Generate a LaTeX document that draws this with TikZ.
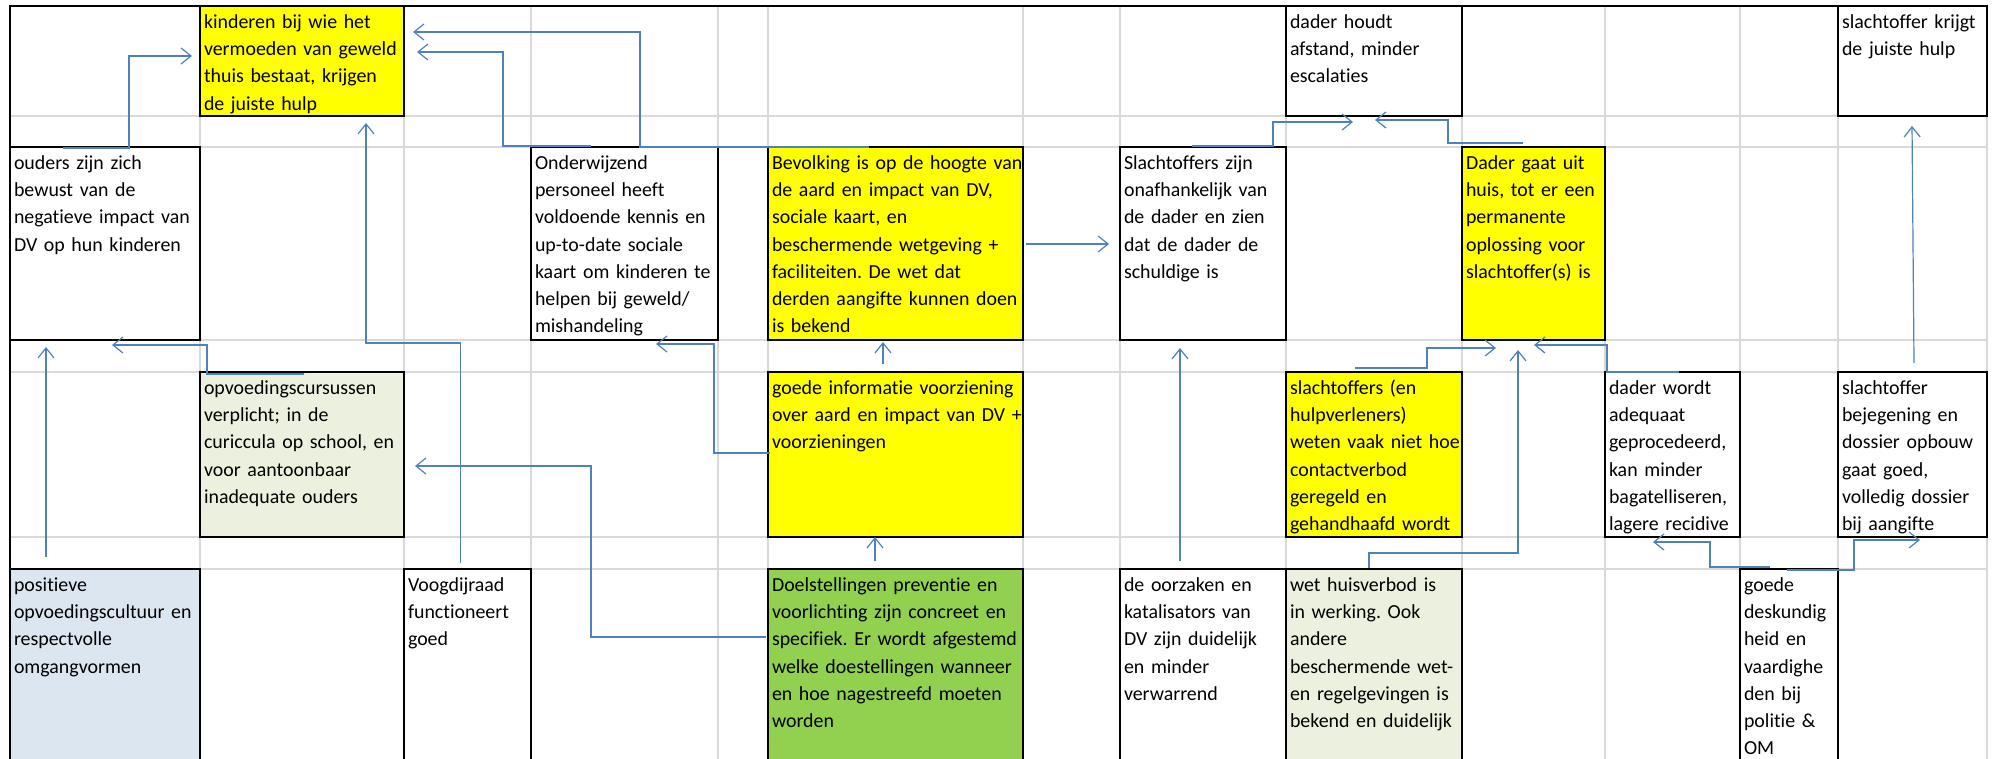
\documentclass[tikz,border=0pt]{standalone}
\usepackage{fontspec}
\setmainfont{Carlito}[Ligatures=CommonOff]
\usetikzlibrary{arrows.meta,calc,fit}
\frenchspacing
\definecolor{gridgray}{HTML}{D9D9D9}
\definecolor{xlyellow}{HTML}{FFFF00}
\definecolor{xllgreen}{HTML}{EBF1DE}
\definecolor{xllblue}{HTML}{DCE6F1}
\definecolor{xlgreen}{HTML}{92D050}
\definecolor{xlblue}{HTML}{4F81BD}
\tikzset{
  gridline/.style={draw=gridgray, line width=0.65pt},
  frameline/.style={draw=black, line width=0.85pt},
  cellbox/.style={draw=black, line width=0.85pt, inner sep=0pt, outer sep=0pt},
  celltext/.style={anchor=base west, inner sep=0pt, outer sep=0pt, text width=150pt, align=left, font=\frenchspacing\fontsize{9.95}{13.6}\selectfont},
  conn/.style={draw=xlblue, line width=0.6pt, -{Straight Barb[length=5pt,width=8pt]}},
}
\newcommand\mkcell[7]{%
  \node[cellbox, fill=#6, fit={(#2,#3) (#4,#5)}] (#1) {};
  \node[celltext] (#1-t) at ($(#1.north west)+(4,22.5)$) {#7};
}
\begin{document}
\begin{tikzpicture}[x=0.5pt, y=-0.5pt]
\useasboundingbox (0,0) rectangle (2000,759);
\clip (0,0) rectangle (2000,759);
\fill[white] (0,0) rectangle (2000,759);
% grid
\foreach \gx in {200,404,531,718,768,1023,1120,1286,1462,1605,1740,1838,1987}
  \draw[gridline] (\gx,6) -- (\gx,770);
\foreach \gy in {116,147,340,372,537,569}
  \draw[gridline] (10,\gy) -- (1987,\gy);
% frame
\draw[frameline] (10,770) -- (10,6) -- (1987,6);
% cells
\mkcell{kind}{200}{6}{404}{116}{xlyellow}{kinderen bij wie het\\vermoeden van geweld\\thuis bestaat, krijgen\\de juiste hulp}
\mkcell{dhoudt}{1286}{6}{1462}{116}{white}{dader houdt\\afstand, minder\\escalaties}
\mkcell{skrijgt}{1838}{6}{1987}{116}{white}{slachtoffer krijgt\\de juiste hulp}
\mkcell{ouders}{10}{147}{200}{340}{white}{ouders zijn zich\\bewust van de\\negatieve impact van\\DV op hun kinderen}
\mkcell{onderw}{531}{147}{718}{340}{white}{Onderwijzend\\personeel heeft\\voldoende kennis en\\up-to-date sociale\\kaart om kinderen te\\helpen bij geweld/\\mishandeling}
\mkcell{bevolk}{768}{147}{1023}{340}{xlyellow}{Bevolking is op de hoogte van\\de aard en impact van DV,\\sociale kaart, en\\beschermende wetgeving +\\faciliteiten. De wet dat\\derden aangifte kunnen doen\\is bekend}
\mkcell{slacht}{1120}{147}{1286}{340}{white}{Slachtoffers zijn\\onafhankelijk van\\de dader en zien\\dat de dader de\\schuldige is}
\mkcell{dgaat}{1462}{147}{1605}{340}{xlyellow}{Dader gaat uit\\huis, tot er een\\permanente\\oplossing voor\\slachtoffer(s) is}
\mkcell{opvoed}{200}{372}{404}{537}{xllgreen}{opvoedingscursussen\\verplicht; in de\\curiccula op school, en\\voor aantoonbaar\\inadequate ouders}
\mkcell{ginfo}{768}{372}{1023}{537}{xlyellow}{goede informatie voorziening\\over aard en impact van DV +\\voorzieningen}
\mkcell{shulp}{1286}{372}{1462}{537}{xlyellow}{slachtoffers (en\\hulpverleners)\\weten vaak niet hoe\\contactverbod\\geregeld en\\gehandhaafd wordt}
\mkcell{dwordt}{1605}{372}{1740}{537}{white}{dader wordt\\adequaat\\geprocedeerd,\\kan minder\\bagatelliseren,\\lagere recidive}
\mkcell{sbejeg}{1838}{372}{1987}{537}{white}{slachtoffer\\bejegening en\\dossier opbouw\\gaat goed,\\volledig dossier\\bij aangifte}
\mkcell{posit}{10}{569}{200}{800}{xllblue}{positieve\\opvoedingscultuur en\\respectvolle\\omgangvormen}
\mkcell{voogd}{404}{569}{531}{800}{white}{Voogdijraad\\functioneert\\goed}
\mkcell{doel}{768}{569}{1023}{800}{xlgreen}{Doelstellingen preventie en\\voorlichting zijn concreet en\\specifiek. Er wordt afgestemd\\welke doestellingen wanneer\\en hoe nagestreefd moeten\\worden}
\mkcell{oorz}{1120}{569}{1286}{800}{white}{de oorzaken en\\katalisators van\\DV zijn duidelijk\\en minder\\verwarrend}
\mkcell{wet}{1286}{569}{1462}{800}{xllgreen}{wet huisverbod is\\in werking. Ook\\andere\\beschermende wet-\\en regelgevingen is\\bekend en duidelijk}
\mkcell{gdesk}{1740}{569}{1838}{800}{white}{goede\\deskundig\\heid en\\vaardighe\\den bij\\politie \&\\OM}
% connectors
\draw[conn] ($(ouders.north west)+(53,1)$) -- ++(66,0) |- ($(kind.west)+(-8,-5)$);
\draw[conn] ($(onderw.north west)+(60,-1)$) -- ++(-88,0) |- ($(kind.east)+(13,-9)$);
\draw[conn] ($(bevolk.north west)+(101,0)$) -- ++(-229,0) |- ($(kind.north east)+(9,26)$);
\draw[conn] ($(voogd.north)+(-7,-6)$) -- ++(0,-220) -| ($(kind.south)+(64,7)$);
\draw[conn] ($(opvoed.north west)+(104,2)$) -- ++(-97,0) |- ($(ouders.south west)+(102,5)$);
\draw[conn] ($(posit.north west)+(36,-12)$) -- ($(ouders.south west)+(36,7)$);
\draw[conn] ($(doel.north west)+(-2,68)$) -- ++(-175,0) |- ($(opvoed.east)+(11,11.5)$);
\draw[conn] ($(ginfo.west)+(2,-1.5)$) -- ++(-56,0) |- ($(onderw.south east)+(-62,4)$);
\draw[conn] ($(ginfo.north)+(-12.5,-8)$) -- ($(bevolk.south)+(-12.5,2)$);
\draw[conn] ($(doel.north)+(-20.5,-8)$) -- ($(ginfo.south)+(-20.5,0)$);
\draw[conn] ($(bevolk.east)+(3,0.5)$) -- ($(slacht.west)+(-11,0.5)$);
\draw[conn] ($(oorz.north)+(-23,-8)$) -- ($(slacht.south)+(-23,8)$);
\draw[conn] ($(slacht.north west)+(72,-1)$) -- ++(81,0) |- ($(dhoudt.south west)+(67,6)$);
\draw[conn] ($(dgaat.north west)+(61,-4)$) -- ++(-75,0) |- ($(dhoudt.south west)+(89,4)$);
\draw[conn] ($(shulp.north west)+(69,-4)$) -- ++(72,0) |- ($(dgaat.south west)+(34,8)$);
\draw[conn] ($(wet.north west)+(83,-1)$) -- ++(0,-15) -| ($(dgaat.south west)+(56,10)$);
\draw[conn] ($(dwordt.north west)+(74,0)$) -- ++(-72,0) |- ($(dgaat.south west)+(72,5)$);
\draw[conn] ($(gdesk.north west)+(30,-2)$) -- ++(-60,0) |- ($(dwordt.south west)+(48,5)$);
\draw[conn] ($(gdesk.north west)+(47,1)$) -- ++(67,0) |- ($(sbejeg.south west)+(82,3)$);
\draw[conn] ($(sbejeg.north west)+(76,-9)$) -- ($(skrijgt.south west)+(74,10)$);
\end{tikzpicture}
\end{document}
